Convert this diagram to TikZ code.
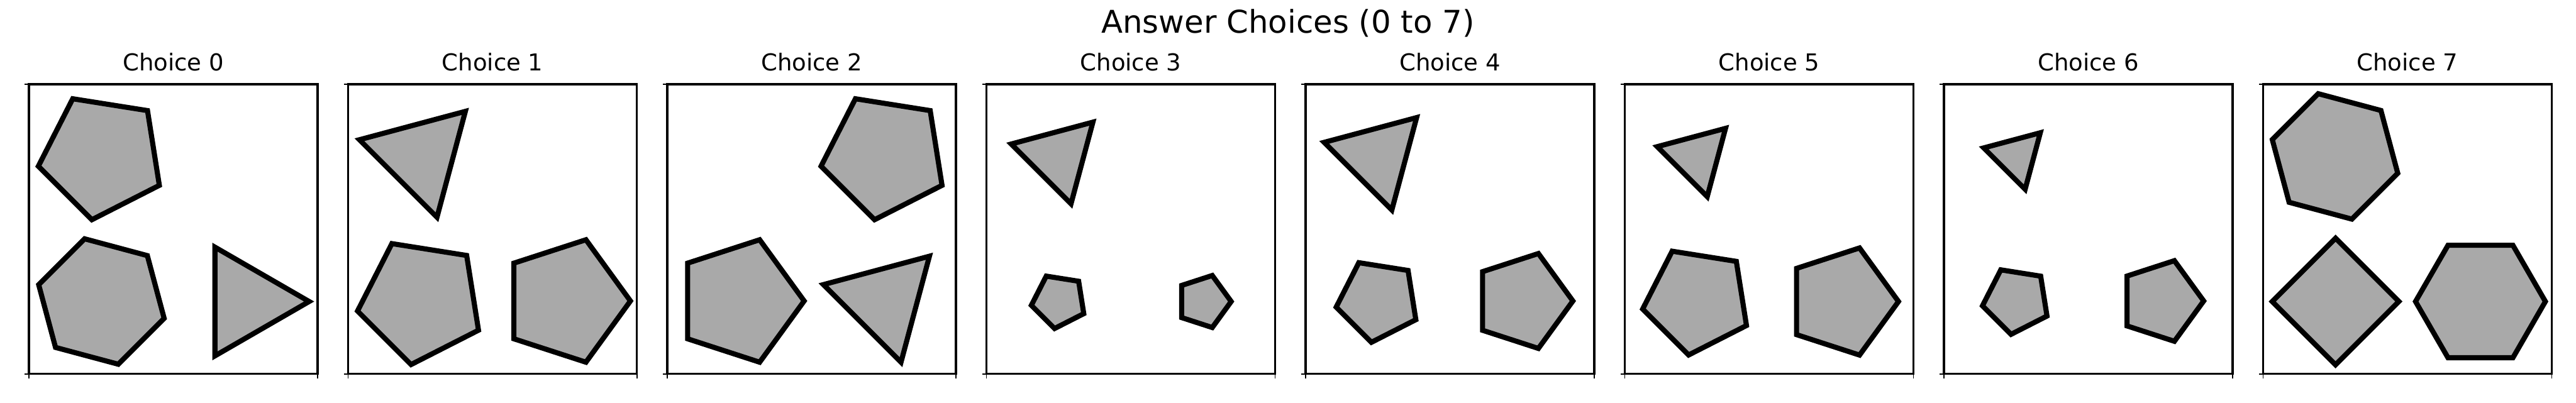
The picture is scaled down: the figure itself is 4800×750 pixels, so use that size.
\documentclass[tikz,border=0pt]{standalone}
\usepackage{fontspec}
\setmainfont{DejaVu Sans}
\definecolor{shapegray}{RGB}{169,169,169}
\tikzset{
  shp/.style={draw=black, fill=shapegray, line width=0.95mm, line join=miter},
  spine/.style={draw=black, line width=0.4mm},
  tickmark/.style={draw=black, line width=0.2mm},
  lab/.style={anchor=base, inner sep=0pt, font=\fontsize{12.35pt}{14pt}\selectfont},
  ttl/.style={anchor=base, inner sep=0pt, font=\fontsize{16.6pt}{19pt}\selectfont}
}
% regular polygon: cx, cy, r, n, start angle (math, y up)
\newcommand\rpoly[5]{%
  \pgfmathtruncatemacro\rpN{#4-1}%
  \draw[shp] ({#1+#3*cos(#5)},{#2-#3*sin(#5)})
    \foreach \k in {1,...,\rpN} { -- ({#1+#3*cos(#5+360*\k/#4)},{#2-#3*sin(#5+360*\k/#4)}) } -- cycle;
}
\begin{document}
\begin{tikzpicture}[x=0.1mm,y=-0.1mm]
\useasboundingbox[fill=white] (0,0) rectangle (4800,750);
\node[ttl] (title) at (2400,61) {Answer Choices (0 to 7)};
\foreach \i in {0,...,7} {
  \pgfmathsetmacro\L{54+594.7*\i}
  \node[lab] (lab\i) at ({\L+269},132) {Choice \i};
  \draw[spine] (\L,157) rectangle ({\L+538},697);
  \draw[tickmark] (\L,157) -- ++(-8,0);
  \draw[tickmark] (\L,697) -- ++(-8,0);
  \draw[tickmark] (\L,697) -- ++(0,8);
  \draw[tickmark] ({\L+538},697) -- ++(0,8);
}
% Panel 0
\begin{scope}[shift={({54+594.7*0},157)}]
  \rpoly{136}{134}{120}{5}{45}
  \rpoly{135}{405}{121}{6}{45}
  \rpoly{405}{405}{117}{3}{0}
\end{scope}
% Panel 1
\begin{scope}[shift={({54+594.7*1},157)}]
  \rpoly{135}{134}{118}{3}{45}
  \rpoly{136}{404}{120}{5}{45}
  \rpoly{406}{404}{120}{5}{0}
\end{scope}
% Panel 2
\begin{scope}[shift={({54+594.7*2},157)}]
  \rpoly{405}{134}{120}{5}{45}
  \rpoly{135}{404}{120}{5}{0}
  \rpoly{405}{404}{118}{3}{45}
\end{scope}
% Panel 3
\begin{scope}[shift={({54+594.7*3},157)}]
  \rpoly{134}{135}{91}{3}{45}
  \rpoly{135}{404}{52}{5}{45}
  \rpoly{405}{405}{51}{5}{0}
\end{scope}
% Panel 4
\begin{scope}[shift={({54+594.7*4},157)}]
  \rpoly{134}{135}{103}{3}{45}
  \rpoly{135}{403}{79}{5}{45}
  \rpoly{405}{404}{93}{5}{0}
\end{scope}
% Panel 5
\begin{scope}[shift={({54+594.7*5},157)}]
  \rpoly{134}{136}{76}{3}{45}
  \rpoly{135}{403}{103}{5}{45}
  \rpoly{405}{405}{105}{5}{0}
\end{scope}
% Panel 6
\begin{scope}[shift={({54+594.7*6},157)}]
  \rpoly{135}{135}{63}{3}{45}
  \rpoly{135}{403}{64}{5}{45}
  \rpoly{405}{404}{79}{5}{0}
\end{scope}
% Panel 7
\begin{scope}[shift={({54+594.7*7},157)}]
  \rpoly{134}{134.5}{121}{6}{45}
  \rpoly{135}{405}{118}{4}{0}
  \rpoly{405}{405}{121}{6}{0}
\end{scope}
\end{tikzpicture}
\end{document}
